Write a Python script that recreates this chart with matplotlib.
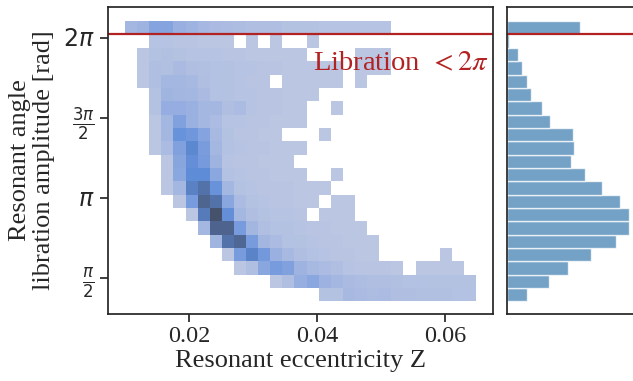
import numpy as np
import matplotlib
matplotlib.use("Agg")
import matplotlib.pyplot as plt
import seaborn as sns

# Binning of the resonant eccentricity (x) and libration amplitude (y)
z_lo, z_hi, n_z = 0.00994, 0.0649, 29
amp_lo, n_amp = 1.115, 21
amp_step = np.pi / 12
libration_limit = 6.355

# Counts per cell, one row per amplitude bin, highest amplitude first
counts_2d = [
    [13, 16, 29, 29, 19, 16, 12, 10, 9, 8, 7, 7, 7, 4, 4, 4, 3, 3, 3, 3, 3, 3, 0, 0, 0, 0, 0, 0, 0],
    [0, 0, 3, 3, 2, 2, 1, 1, 1, 0, 1, 0, 1, 0, 0, 1, 0, 0, 0, 0, 0, 0, 0, 0, 0, 0, 0, 0, 0],
    [0, 1, 4, 6, 4, 3, 3, 3, 2, 2, 1, 1, 1, 1, 1, 0, 0, 0, 0, 1, 1, 1, 0, 0, 0, 0, 0, 0, 0],
    [0, 1, 7, 6, 10, 7, 6, 5, 4, 3, 3, 2, 2, 1, 1, 1, 1, 1, 0, 1, 1, 1, 0, 0, 0, 0, 0, 0, 0],
    [0, 1, 7, 13, 13, 11, 7, 5, 4, 3, 2, 2, 0, 1, 1, 1, 1, 1, 0, 1, 0, 0, 0, 0, 0, 0, 0, 0, 0],
    [0, 0, 4, 15, 14, 13, 10, 5, 4, 3, 3, 2, 2, 1, 1, 1, 0, 0, 0, 0, 0, 0, 0, 0, 0, 0, 0, 0, 0],
    [0, 0, 4, 21, 21, 18, 13, 13, 7, 9, 3, 2, 2, 1, 1, 0, 0, 1, 0, 0, 0, 0, 0, 0, 0, 0, 0, 0, 0],
    [0, 0, 1, 13, 32, 18, 13, 9, 3, 3, 2, 2, 1, 1, 1, 0, 0, 0, 0, 0, 0, 0, 0, 0, 0, 0, 0, 0, 0],
    [0, 0, 1, 13, 44, 40, 29, 11, 4, 2, 2, 1, 1, 0, 0, 0, 1, 0, 0, 0, 0, 0, 0, 0, 0, 0, 0, 0, 0],
    [0, 0, 1, 9, 32, 52, 35, 13, 5, 3, 2, 2, 1, 1, 1, 0, 0, 0, 0, 0, 0, 0, 0, 0, 0, 0, 0, 0, 0],
    [0, 0, 0, 1, 28, 46, 37, 16, 3, 2, 2, 1, 1, 1, 0, 0, 0, 0, 0, 0, 0, 0, 0, 0, 0, 0, 0, 0, 0],
    [0, 0, 0, 1, 26, 49, 49, 26, 5, 3, 2, 2, 1, 1, 1, 0, 0, 1, 0, 0, 0, 0, 0, 0, 0, 0, 0, 0, 0],
    [0, 0, 0, 1, 13, 58, 71, 44, 13, 4, 3, 2, 2, 2, 1, 1, 1, 0, 0, 0, 0, 0, 0, 0, 0, 0, 0, 0, 0],
    [0, 0, 0, 0, 1, 36, 83, 71, 27, 9, 4, 3, 2, 2, 1, 1, 0, 1, 1, 0, 0, 0, 0, 0, 0, 0, 0, 0, 0],
    [0, 0, 0, 0, 0, 1, 63, 100, 46, 13, 7, 4, 3, 3, 2, 0, 1, 1, 1, 0, 0, 0, 0, 0, 0, 0, 0, 0, 0],
    [0, 0, 0, 0, 0, 0, 13, 84, 84, 36, 14, 7, 5, 4, 3, 2, 2, 1, 1, 1, 0, 0, 0, 0, 0, 0, 0, 0, 0],
    [0, 0, 0, 0, 0, 0, 0, 15, 71, 81, 36, 14, 9, 5, 4, 3, 2, 2, 1, 1, 1, 0, 0, 0, 0, 0, 0, 0, 0],
    [0, 0, 0, 0, 0, 0, 0, 0, 1, 36, 56, 38, 18, 11, 7, 5, 3, 2, 2, 1, 1, 0, 0, 0, 0, 0, 1, 0, 0],
    [0, 0, 0, 0, 0, 0, 0, 0, 0, 1, 7, 27, 36, 31, 16, 11, 9, 7, 3, 2, 2, 2, 1, 0, 1, 1, 1, 1, 0],
    [0, 0, 0, 0, 0, 0, 0, 0, 0, 0, 0, 0, 1, 7, 20, 26, 17, 13, 10, 8, 7, 7, 6, 5, 5, 4, 4, 4, 4],
    [0, 0, 0, 0, 0, 0, 0, 0, 0, 0, 0, 0, 0, 0, 0, 0, 4, 4, 11, 10, 8, 9, 7, 7, 6, 6, 6, 5, 5],
]

# Marginal amplitude distribution, highest amplitude first
counts_amp = [218, 6, 34, 47, 61, 73, 105, 128, 198, 201, 193,
              233, 283, 338, 364, 365, 326, 253, 182, 126, 62]

amp_ticks = [np.pi / 2, np.pi, 3 * np.pi / 2, 2 * np.pi]
amp_ticklabels = [r"$\frac{\pi}{2}$", r"$\pi$", r"$\frac{3\pi}{2}$", r"$2\pi$"]
z_ticks = [0.02, 0.04, 0.06]

sns.set_theme(style="ticks")
plt.rcParams["font.family"] = ["Liberation Serif", "DejaVu Serif"]
plt.rcParams["mathtext.fontset"] = "dejavusans"
plt.rcParams["axes.edgecolor"] = "#262626"

z_edges = np.linspace(z_lo, z_hi, n_z + 1)
amp_edges = amp_lo + amp_step * np.arange(n_amp + 1)
z_mid = 0.5 * (z_edges[:-1] + z_edges[1:])
amp_mid = 0.5 * (amp_edges[:-1] + amp_edges[1:])
grid = np.array(counts_2d)[::-1]
zz, aa = np.meshgrid(z_mid, amp_mid)

fig = plt.figure(figsize=(6.33, 3.81), dpi=100)
ax = fig.add_axes([0.1706, 0.1759, 0.6088, 0.8057])
axm = fig.add_axes([0.8005, 0.1759, 0.1995, 0.8057], sharey=ax)

sns.histplot(x=zz.ravel(), y=aa.ravel(), weights=grid.ravel(),
             bins=[z_edges, amp_edges], color="#4c72b0", ax=ax)

# marginal distribution of the amplitude
axm.barh(amp_edges[:-1], np.array(counts_amp)[::-1], height=amp_step,
         align="edge", color="steelblue", alpha=0.75,
         edgecolor="white", linewidth=1.0)

red = "#b22222"
ax.axhline(libration_limit, color=red, lw=1.6)
axm.axhline(libration_limit, color=red, lw=1.6)
ax.text(0.988, 0.795, r"Libration $\,<2\pi$", transform=ax.transAxes,
        ha="right", va="baseline", color=red, fontsize=20.5,
        math_fontfamily="stix")

ax.set_xlim(0.00728, 0.0676)
ax.set_ylim(0.87, 6.89)
ax.set_xticks(z_ticks)
ax.set_xticklabels([f"{t:.2f}" for t in z_ticks])
ax.set_yticks(amp_ticks)
ax.set_yticklabels(amp_ticklabels)
ax.tick_params(axis="x", labelsize=17.5, pad=3)
ax.tick_params(axis="y", labelsize=17)
ax.set_xlabel("Resonant eccentricity Z", fontsize=19, labelpad=2)
ax.set_ylabel("Resonant angle\nlibration amplitude [rad]", fontsize=19,
              linespacing=1.1, labelpad=6)
for side in ["top", "right", "bottom", "left"]:
    ax.spines[side].set_visible(True)

axm.set_xlim(0, 377)
axm.set_xticks([])
axm.tick_params(axis="y", left=False, labelleft=False)
axm.spines["right"].set_visible(False)

fig.savefig("out.png", dpi=100)
